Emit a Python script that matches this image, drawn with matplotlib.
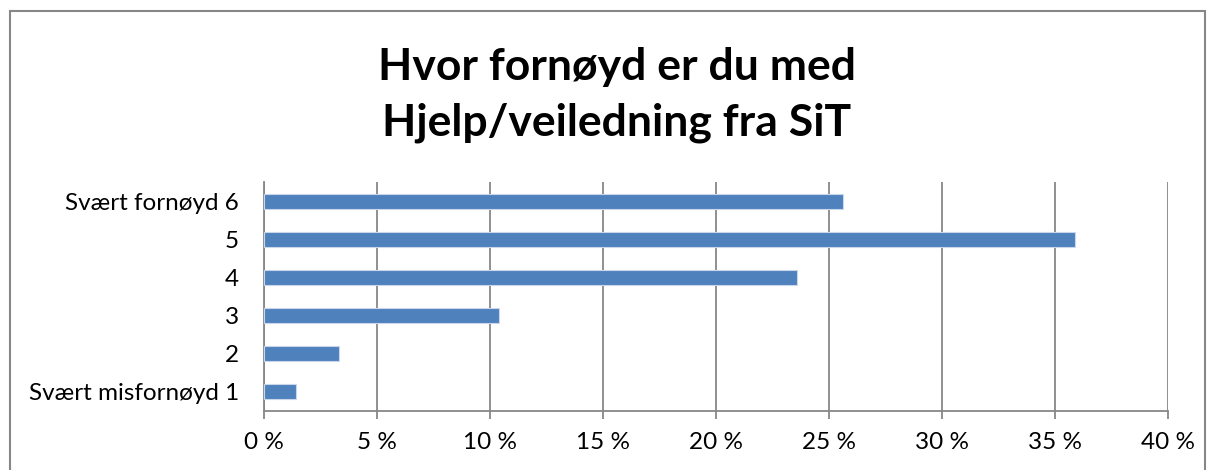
import matplotlib
matplotlib.use("Agg")
import matplotlib.pyplot as plt
from matplotlib.patches import Rectangle
from matplotlib.ticker import FuncFormatter

categories = ["Svært misfornøyd 1", "2", "3", "4", "5", "Svært fornøyd 6"]
values = [1.4, 3.3, 10.4, 23.6, 35.9, 25.6]
xticks = [0, 5, 10, 15, 20, 25, 30, 35, 40]
title = "Hvor fornøyd er du med\nHjelp/veiledning fra SiT"

plt.rcParams['font.family'] = ['Lato', 'DejaVu Sans']

fig = plt.figure(figsize=(12.14, 4.70), dpi=100)
fig.patch.set_facecolor("white")
fig.patches.append(Rectangle((10/1214, -0.1), (1205-10)/1214, 1.1 - 11/470,
                             transform=fig.transFigure, fill=False,
                             edgecolor="#878787", linewidth=1.5))

ax = fig.add_axes([264/1214, (470-411)/470, (1168-264)/1214, (411-182)/470])
ypos = list(range(len(categories)))
ax.barh(ypos, values, height=0.39, color="#4F81BD", edgecolor="#C9D7EA",
        linewidth=0.8, zorder=3)
ax.set_xlim(0, 40)
ax.set_ylim(-0.5, len(categories) - 0.5)
ax.set_xticks(xticks)
ax.xaxis.set_major_formatter(FuncFormatter(lambda v, p: f"{int(v)} %"))
ax.set_yticks(ypos)
ax.set_yticklabels(categories)
ax.grid(axis="x", color="#878787", linewidth=1.3, zorder=0)
for s in ["top", "right"]:
    ax.spines[s].set_visible(False)
for s in ["left", "bottom"]:
    ax.spines[s].set_color("#878787")
    ax.spines[s].set_linewidth(1.3)
ax.tick_params(axis="x", direction="out", length=6, width=1.3, color="#878787",
               labelsize=17.5, pad=9, labelcolor="black")
ax.tick_params(axis="y", length=0, labelsize=17.5, pad=18, labelcolor="black")

fig.text(617/1214, 1 - 95/470, title, ha="center", va="center",
         fontsize=32, fontweight="bold", linespacing=1.45)

fig.savefig("out.png", dpi=100, facecolor="white")
